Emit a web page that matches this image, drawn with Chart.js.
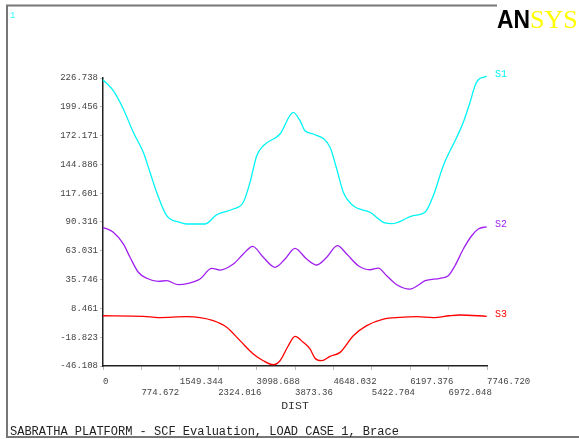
<!DOCTYPE html>
<html>
<head>
<meta charset="utf-8">
<script src="https://cdn.jsdelivr.net/npm/chart.js@4.4.1/dist/chart.umd.min.js"></script>
<style>
    html, body { margin: 0; padding: 0; background: #fff; }
    #wrap { width: 579px; height: 439px; }
</style>
</head>
<body>
<div id="wrap"><canvas id="scfChart" width="579" height="439"></canvas></div>
<script>
// values
const s1Dist = [0, 208, 410, 611, 813, 948, 1083, 1285, 1553, 1689, 2058, 2294, 2629, 2830, 2966, 3101, 3234, 3571, 3839, 3974,
    4075, 4242, 4579, 4715, 4848, 5050, 5386, 5689, 5824, 6260, 6496, 6663, 6865, 7136, 7269, 7404, 7505, 7571, 7672, 7741];
const s1Vals = [225.1, 214.7, 197.4, 175.3, 156.3, 137.4, 118.5, 96.3, 90.0, 88.4, 88.4, 97.2, 102.6, 109.0, 127.9, 153.1, 162.6, 173.7, 194.2, 186.3,
    176.8, 173.7, 161.1, 140.5, 118.5, 105.7, 99.5, 89.4, 88.7, 96.3, 99.5, 115.2, 143.7, 170.6, 184.8, 203.7, 219.4, 225.1, 227.4, 228.4];

const s2Dist = [0, 208, 410, 545, 712, 882, 1116, 1285, 1519, 1721, 1957, 2193, 2360, 2629, 2830, 3020, 3234, 3470, 3672, 3873,
    4109, 4311, 4513, 4727, 4916, 5150, 5386, 5554, 5723, 5925, 6193, 6395, 6496, 6798, 6966, 7101, 7269, 7438, 7571, 7741];
const s2Vals = [85.3, 80.5, 69.5, 56.9, 42.7, 37.0, 34.1, 34.7, 30.9, 32.2, 36.3, 46.4, 44.8, 50.5, 60.0, 67.3, 56.9, 47.4, 55.2, 65.4,
    55.2, 49.6, 56.9, 67.9, 60.0, 48.9, 45.1, 46.7, 39.4, 30.9, 26.8, 31.6, 34.7, 37.0, 39.4, 48.9, 64.7, 77.3, 83.7, 85.8];

const s3Dist = [0, 813, 1116, 1689, 1957, 2225, 2495, 2764, 3032, 3234, 3436, 3571, 3738, 3873, 4041, 4176, 4277, 4412, 4579, 4781,
    5050, 5320, 5655, 5992, 6329, 6663, 6986, 7202, 7741];
const s3Vals = [1.5, 1.0, -0.3, 0.6, -0.3, -3.2, -9.4, -22.1, -34.7, -41.1, -44.9, -41.1, -26.9, -18.0, -23.7, -30.0, -38.8, -41.1, -37.0, -33.2,
    -17.4, -7.9, -1.6, 0.0, 0.6, -0.3, 1.5, 2.2, 1.0];

const seriesNames = ['S1', 'S2', 'S3'];
const seriesColors = ['#00f4f4', '#a020f0', '#ff0000'];

const xTickLabels = ['0', '774.672', '1549.344', '2324.016', '3098.688', '3873.36', '4648.032', '5422.704', '6197.376', '6972.048', '7746.720'];
const yTickLabels = ['-46.108', '-18.823', '8.461', '35.746', '63.031', '90.316', '117.601', '144.886', '172.171', '199.456', '226.738'];

const plotTitle = 'SABRATHA PLATFORM - SCF Evaluation, LOAD CASE 1, Brace';
const xAxisTitle = 'DIST';

const mono = "'Liberation Mono', 'DejaVu Sans Mono', monospace";

function toPoints(dist, vals) {
    return dist.map(function(d, i) { return { x: d, y: vals[i] }; });
}

// frame, logo, titles and series tags
const framePlugin = {
    id: 'frame',
    beforeDraw: function(chart) {
        const ctx = chart.ctx;
        ctx.save();
        ctx.fillStyle = '#ffffff';
        ctx.fillRect(0, 0, chart.width, chart.height);
        ctx.restore();
    },
    afterDraw: function(chart) {
        const ctx = chart.ctx;
        const area = chart.chartArea;
        ctx.save();

        // window border
        ctx.strokeStyle = '#777';
        ctx.lineWidth = 2;
        ctx.beginPath();
        ctx.moveTo(497, 5.5);
        ctx.lineTo(7, 5.5);
        ctx.lineTo(7, 437);
        ctx.lineTo(579, 437);
        ctx.stroke();

        // window number
        ctx.fillStyle = '#33ffff';
        ctx.font = '9px ' + mono;
        ctx.textBaseline = 'middle';
        ctx.textAlign = 'left';
        ctx.fillText('1', 10, 16);

        // logo
        ctx.textBaseline = 'alphabetic';
        ctx.fillStyle = '#000';
        ctx.font = "bold 26px 'Liberation Sans', Arial, sans-serif";
        ctx.fillText('AN', 497, 28, 33);
        ctx.fillStyle = '#ffff00';
        ctx.font = "26px 'Liberation Serif', serif";
        ctx.fillText('SYS', 530, 28);

        // series tags at the right end
        ctx.font = '10px ' + mono;
        ctx.textBaseline = 'middle';
        const yScale = chart.scales.y;
        const lastVals = [s1Vals[s1Vals.length - 1], s2Vals[s2Vals.length - 1], s3Vals[s3Vals.length - 1]];
        seriesNames.forEach(function(name, i) {
            ctx.fillStyle = seriesColors[i];
            ctx.fillText(name, area.right + 8, yScale.getPixelForValue(lastVals[i]) - 2);
        });

        // axis title
        ctx.fillStyle = '#333';
        ctx.font = '11.5px ' + mono;
        ctx.textAlign = 'center';
        ctx.fillText(xAxisTitle, (area.left + area.right) / 2, 406);

        // plot title
        ctx.fillStyle = '#222';
        ctx.font = '12px ' + mono;
        ctx.textAlign = 'left';
        ctx.fillText(plotTitle, 10, 432);

        ctx.restore();
    }
};

const ctx = document.getElementById('scfChart').getContext('2d');
new Chart(ctx, {
    type: 'line',
    data: {
        datasets: [
            { label: 'S1', data: toPoints(s1Dist, s1Vals), borderColor: seriesColors[0] },
            { label: 'S2', data: toPoints(s2Dist, s2Vals), borderColor: seriesColors[1] },
            { label: 'S3', data: toPoints(s3Dist, s3Vals), borderColor: seriesColors[2] }
        ]
    },
    options: {
        responsive: false,
        animation: false,
        parsing: true,
        layout: {
            padding: { left: 0, top: 78, right: 92, bottom: 0 }
        },
        elements: {
            point: { radius: 0 },
            line: { borderWidth: 1.3, cubicInterpolationMode: 'monotone', fill: false }
        },
        datasets: {
            line: { clip: false }
        },
        plugins: {
            legend: { display: false },
            tooltip: { enabled: false }
        },
        scales: {
            x: {
                type: 'linear',
                min: 0,
                max: 7746.72,
                afterFit: function(scale) { scale.height = 439 - 366; },
                afterBuildTicks: function(scale) {
                    scale.ticks = xTickLabels.map(function(t) { return { value: parseFloat(t) }; });
                },
                border: { display: true, color: '#222', width: 1.5 },
                grid: { drawOnChartArea: false, tickLength: 4, color: '#bbb' },
                ticks: {
                    autoSkip: false,
                    maxRotation: 0,
                    minRotation: 0,
                    align: 'start',
                    padding: 6,
                    color: '#444',
                    font: { family: mono, size: 9, lineHeight: 1.2 },
                    callback: function(value, index) {
                        return index % 2 ? ['', xTickLabels[index]] : xTickLabels[index];
                    }
                }
            },
            y: {
                type: 'linear',
                min: -46.108,
                max: 226.738,
                afterFit: function(scale) { scale.width = 103; },
                afterBuildTicks: function(scale) {
                    scale.ticks = yTickLabels.map(function(t) { return { value: parseFloat(t) }; });
                },
                border: { display: true, color: '#222', width: 1.5 },
                grid: { drawOnChartArea: false, tickLength: 3, color: '#bbb' },
                ticks: {
                    autoSkip: false,
                    padding: 2,
                    color: '#444',
                    font: { family: mono, size: 9 },
                    callback: function(value, index) {
                        return yTickLabels[index];
                    }
                }
            }
        }
    },
    plugins: [framePlugin]
});
</script>
</body>
</html>
